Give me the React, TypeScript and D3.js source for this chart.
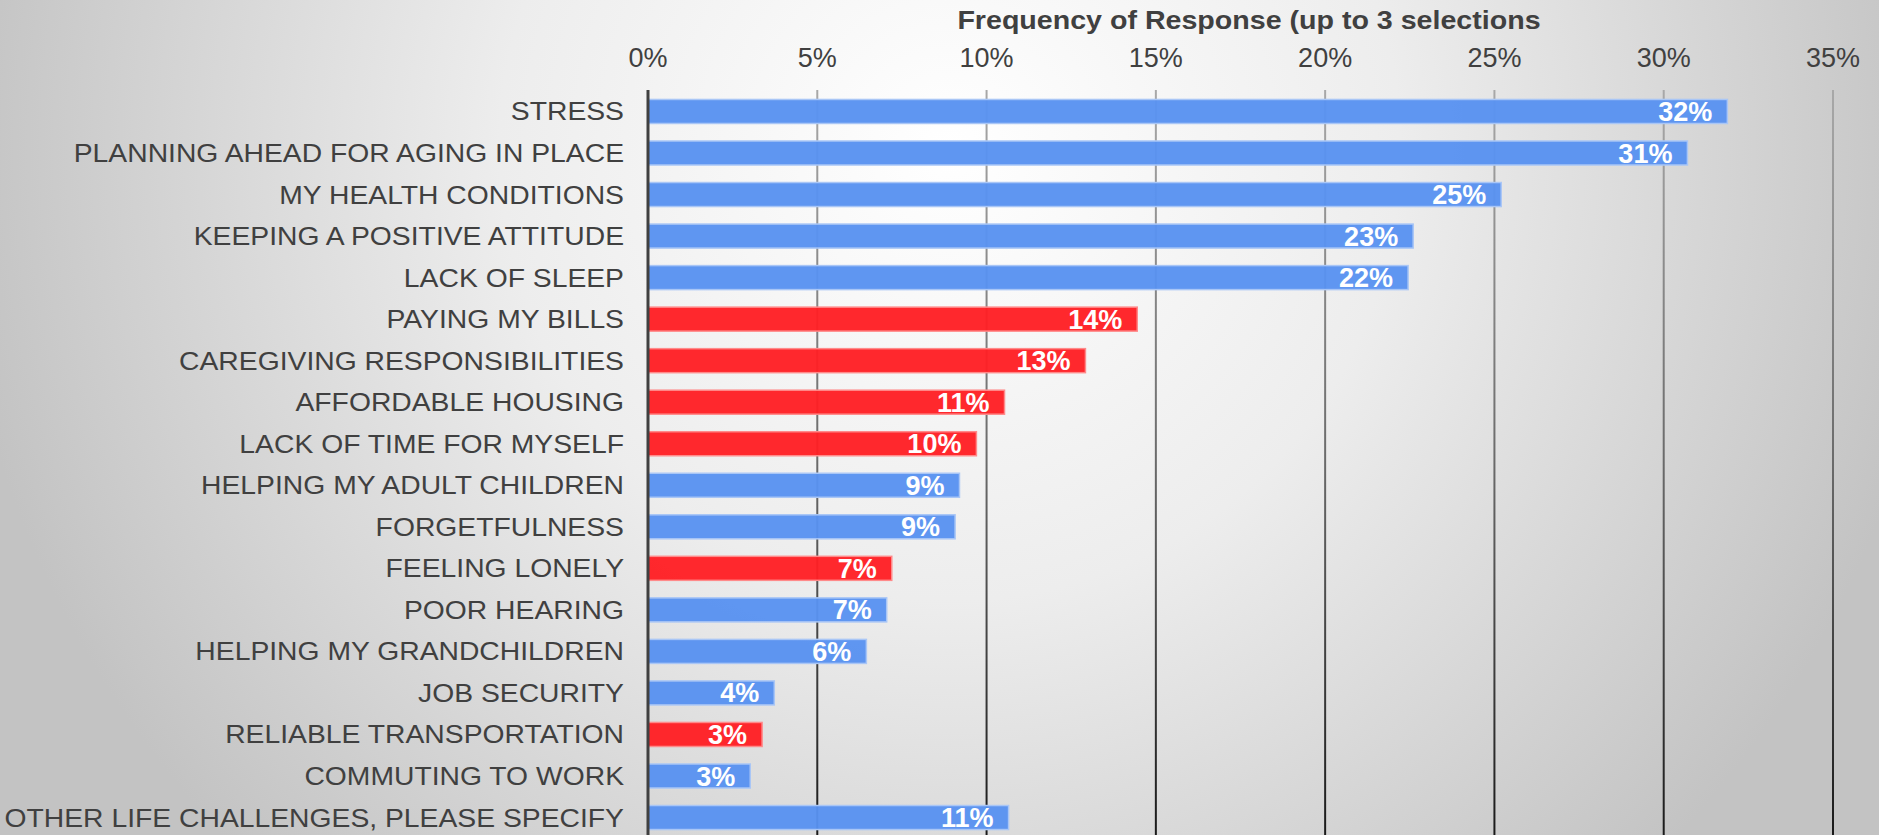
import React from "react";
import * as d3 from "d3";

const categories: string[] = [
  "STRESS",
  "PLANNING AHEAD FOR AGING IN PLACE",
  "MY HEALTH CONDITIONS",
  "KEEPING A POSITIVE ATTITUDE",
  "LACK OF SLEEP",
  "PAYING MY BILLS",
  "CAREGIVING RESPONSIBILITIES",
  "AFFORDABLE HOUSING",
  "LACK OF TIME FOR MYSELF",
  "HELPING MY ADULT CHILDREN",
  "FORGETFULNESS",
  "FEELING LONELY",
  "POOR HEARING",
  "HELPING MY GRANDCHILDREN",
  "JOB SECURITY",
  "RELIABLE TRANSPORTATION",
  "COMMUTING TO WORK",
  "OTHER LIFE CHALLENGES, PLEASE SPECIFY",
];

const values: number[] = [
  31.88, 30.7, 25.2, 22.6, 22.45, 14.45, 12.92, 10.53, 9.7, 9.2, 9.07, 7.2,
  7.05, 6.45, 3.73, 3.37, 3.02, 10.65,
];

const highlighted: string[] = [
  "PAYING MY BILLS",
  "CAREGIVING RESPONSIBILITIES",
  "AFFORDABLE HOUSING",
  "LACK OF TIME FOR MYSELF",
  "FEELING LONELY",
  "RELIABLE TRANSPORTATION",
];

const tickValues: number[] = [0, 5, 10, 15, 20, 25, 30, 35];

const title = "Frequency of Response (up to 3 selections";

const W = 1879;
const H = 835;

export default function App() {
  const x = d3.scaleLinear().domain([0, 35]).range([648, 1833]);
  const y = d3
    .scaleBand<string>()
    .domain(categories)
    .range([90.7, 838.3])
    .paddingInner(0.422)
    .paddingOuter(0.211);
  const bw = y.bandwidth();
  const fmt = (v: number) => `${Math.round(v)}%`;
  const font = "'Liberation Sans', Arial, Helvetica, sans-serif";
  const textColor = "#404040";

  return (
    <svg
      width={W}
      height={H}
      style={{ position: "absolute", left: 0, top: 0, display: "block" }}
      fontFamily={font}
    >
      <defs>
        <radialGradient
          id="bg"
          gradientUnits="userSpaceOnUse"
          cx={950}
          cy={150}
          r={1000}
        >
          <stop offset="0" stopColor="#ffffff" />
          <stop offset="0.45" stopColor="#ededed" />
          <stop offset="1" stopColor="#c3c3c3" />
        </radialGradient>
        <linearGradient
          id="grid"
          gradientUnits="userSpaceOnUse"
          x1={0}
          y1={90}
          x2={0}
          y2={835}
        >
          <stop offset="0" stopColor="#a8a8a8" />
          <stop offset="0.5" stopColor="#6a6a6a" />
          <stop offset="1" stopColor="#1a1a1a" />
        </linearGradient>
      </defs>
      <rect x={0} y={0} width={W} height={H} fill="url(#bg)" />

      {/* title */}
      <text
        transform={`translate(1249,28.5) scale(1.1,1)`}
        textAnchor="middle"
        fontSize={26}
        fontWeight="bold"
        fill={textColor}
      >
        {title}
      </text>

      {/* gridlines */}
      {tickValues
        .filter((t) => t > 0)
        .map((t) => (
          <line
            key={"g" + t}
            x1={x(t)}
            x2={x(t)}
            y1={90}
            y2={H}
            stroke="url(#grid)"
            strokeWidth={2}
          />
        ))}

      {/* tick labels */}
      {tickValues.map((t) => (
        <text
          key={"t" + t}
          x={x(t)}
          y={66.7}
          textAnchor="middle"
          fontSize={27}
          fill={textColor}
        >
          {`${t}%`}
        </text>
      ))}

      {/* bars */}
      {categories.map((c, i) => {
        const red = highlighted.includes(c);
        const y0 = y(c) as number;
        return (
          <rect
            key={"b" + c}
            x={x(0)}
            y={y0}
            width={x(values[i]) - x(0)}
            height={bw}
            fill={red ? "#ff1f24" : "#5892f0"}
            fillOpacity={0.96}
            stroke={red ? "#ff8a8a" : "#a9c6f6"}
            strokeWidth={1.5}
          />
        );
      })}

      {/* axis line */}
      <line
        x1={x(0)}
        x2={x(0)}
        y1={90}
        y2={H}
        stroke="#404040"
        strokeWidth={3}
      />

      {/* category labels */}
      {categories.map((c) => {
        const cy = (y(c) as number) + bw / 2;
        return (
          <text
            key={"l" + c}
            transform={`translate(624,${cy + 9}) scale(1.068,1)`}
            textAnchor="end"
            fontSize={26.5}
            fill={textColor}
          >
            {c}
          </text>
        );
      })}

      {/* value labels */}
      {categories.map((c, i) => {
        const cy = (y(c) as number) + bw / 2;
        return (
          <text
            key={"v" + c}
            x={x(values[i]) - 15}
            y={cy + 9.5}
            textAnchor="end"
            fontSize={27}
            fontWeight="bold"
            fill="#ffffff"
          >
            {fmt(values[i])}
          </text>
        );
      })}
    </svg>
  );
}
